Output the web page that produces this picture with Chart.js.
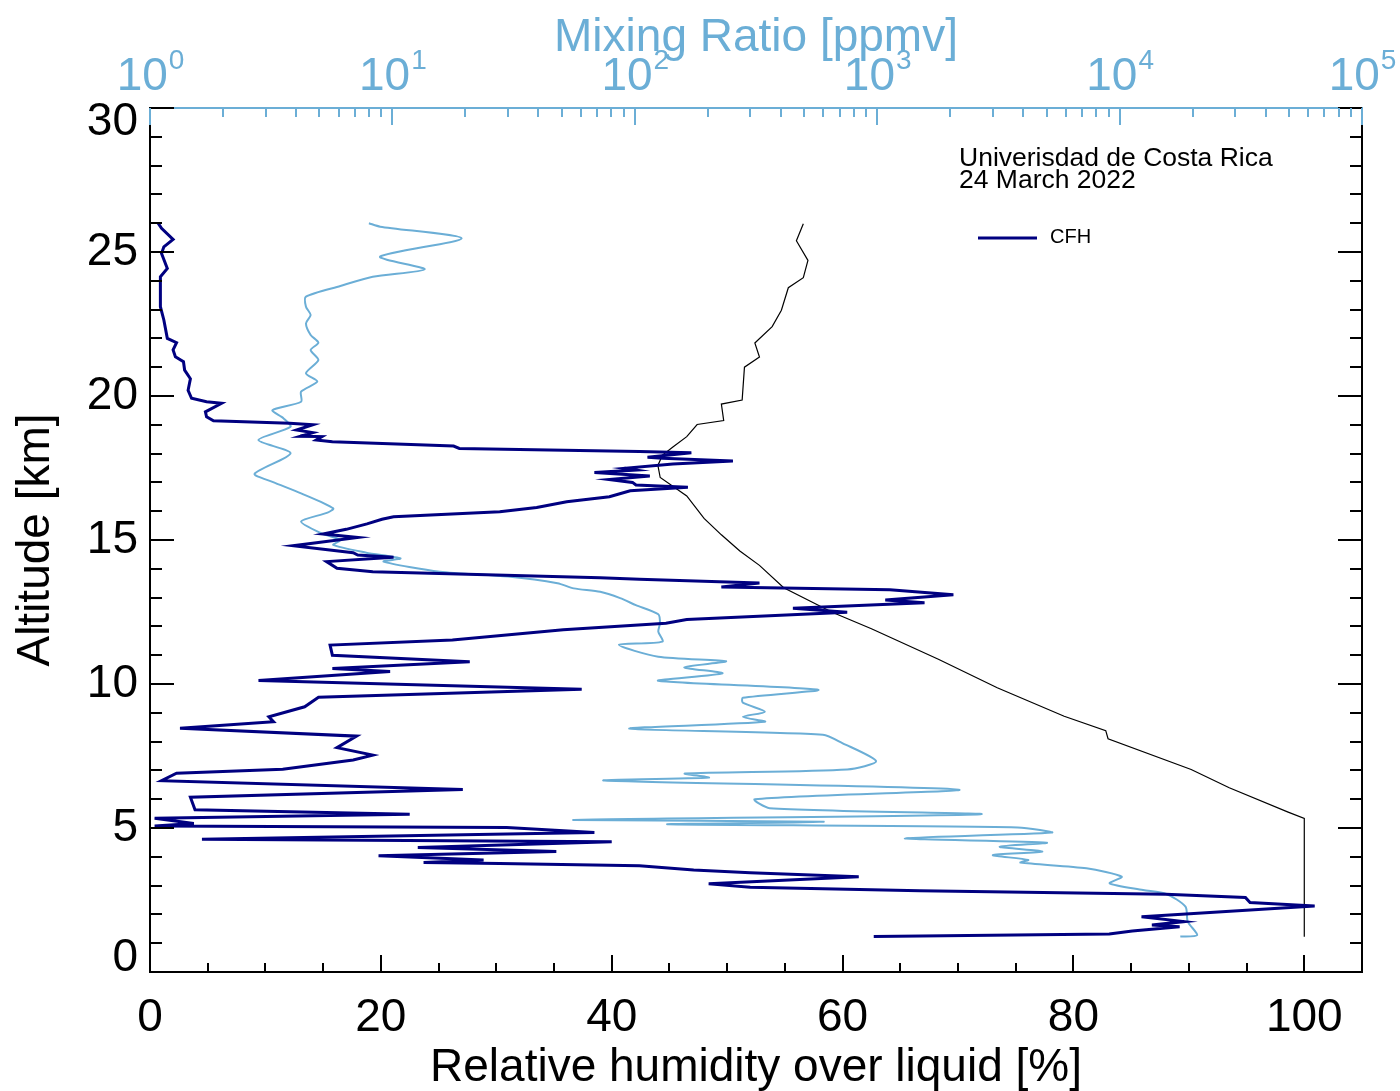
<!DOCTYPE html>
<html>
<head>
<meta charset="utf-8">
<script src="https://cdn.jsdelivr.net/npm/chart.js@4.4.1/dist/chart.umd.min.js"></script>
<style>
  html, body { margin: 0; padding: 0; background: #fff; }
</style>
</head>
<body>
<canvas id="chart" width="1400" height="1091"></canvas>
<script>
// CFH relative humidity over liquid [%] vs altitude [km]
const cfhAlt = [
  1.23, 1.32, 1.42, 1.57, 1.63, 1.75, 1.92, 2.29, 2.41, 2.59,
  2.70, 2.82, 2.94, 3.06, 3.31, 3.45, 3.54, 3.69, 3.77, 3.80,
  3.89, 4.04, 4.18, 4.32, 4.52, 4.61, 4.84, 5.02, 5.07, 5.16,
  5.34, 5.48, 5.63, 6.07, 6.34, 6.64, 6.90, 7.04, 7.36, 7.53,
  7.79, 8.19, 8.46, 8.69, 8.86, 9.21, 9.54, 9.82, 10.12, 10.43,
  10.54, 10.77, 11.00, 11.35, 11.53, 11.88, 12.11, 12.24, 12.49, 12.63,
  12.82, 12.92, 13.10, 13.27, 13.37, 13.51, 13.64, 13.69, 13.90, 14.02,
  14.25, 14.40, 14.48, 14.56, 14.80, 15.09, 15.21, 15.37, 15.56, 15.72,
  15.81, 15.98, 16.13, 16.33, 16.50, 16.71, 16.83, 16.91, 17.00, 17.10,
  17.22, 17.34, 17.43, 17.49, 17.64, 17.74, 17.84, 17.87, 18.03, 18.07,
  18.18, 18.26, 18.41, 18.47, 18.59, 18.60, 18.73, 18.82, 19.00, 19.05,
  19.14, 19.28, 19.45, 19.75, 19.80, 19.92, 20.20, 20.60, 20.90, 21.19,
  21.36, 21.60, 21.85, 22.00, 22.64, 23.10, 23.80, 24.14, 24.43, 24.95,
  25.18, 25.44, 25.82, 26.00
];
const cfhRH = [
  62.7, 83.1, 85.1, 89.2, 86.8, 89.6, 85.9, 100.9, 95.3, 94.9,
  88.0, 66.7, 52.0, 48.4, 61.4, 52.0, 47.1, 42.4, 30.3, 23.7,
  28.9, 19.8, 35.2, 23.2, 40.0, 4.5, 38.5, 30.9, 0.4, 3.8,
  0.4, 22.5, 3.9, 3.5, 27.1, 1.0, 2.3, 11.5, 17.6, 19.3,
  16.2, 17.9, 2.6, 10.7, 10.3, 13.4, 14.6, 37.4, 9.4, 20.8,
  15.8, 27.7, 15.8, 15.6, 26.2, 35.8, 44.7, 46.5, 60.4, 55.7,
  67.1, 63.7, 69.6, 64.1, 49.5, 52.8, 42.4, 39.0, 19.3, 16.2,
  15.3, 21.1, 18.0, 17.6, 12.4, 18.0, 15.0, 17.0, 18.8, 20.1,
  21.1, 30.3, 33.5, 36.1, 39.8, 41.6, 46.6, 42.1, 41.8, 39.8,
  43.3, 38.5, 42.1, 41.1, 45.3, 50.5, 44.4, 43.1, 46.9, 42.4,
  26.8, 26.3, 15.8, 14.4, 14.9, 13.0, 14.1, 12.7, 14.1, 12.1,
  5.5, 4.9, 4.8, 6.2, 4.9, 3.6, 3.3, 3.5, 3.0, 2.9,
  2.2, 2.0, 2.3, 1.5, 1.2, 0.9, 0.9, 0.9, 1.5, 1.0,
  1.2, 2.0, 1.0, 0.7
];

// water vapour mixing ratio [ppmv] vs altitude [km]
const mrAlt = [
  1.23, 1.28, 1.75, 2.27, 2.71, 2.85, 3.08, 3.31, 3.60, 3.80,
  3.89, 4.06, 4.18, 4.35, 4.49, 4.64, 4.84, 5.02, 5.13, 5.22,
  5.28, 5.48, 5.69, 6.00, 6.33, 6.65, 6.75, 6.89, 7.03, 7.32,
  7.95, 8.24, 8.45, 8.69, 8.86, 9.04, 9.35, 9.52, 9.80, 10.11,
  10.37, 10.58, 10.79, 10.95, 11.36, 11.47, 11.82, 12.11, 12.42, 12.74,
  12.98, 13.20, 13.32, 13.50, 13.73, 13.90, 14.25, 14.36, 14.56, 14.83,
  15.00, 15.23, 15.64, 15.95, 16.10, 16.62, 17.02, 17.30, 18.01, 18.47,
  18.93, 19.23, 19.51, 19.80, 20.15, 20.50, 20.79, 21.25, 21.60, 21.85,
  22.12, 22.52, 22.81, 23.10, 23.45, 23.82, 24.14, 24.40, 24.84, 25.47,
  25.88, 26.00
];
const mrPpmv = [
  17800, 20900, 19100, 18700, 15600, 12500, 9100, 10200, 7300, 3900,
  4200, 3000, 4800, 3200, 5000, 1300, 5250, 3800, 137, 600,
  56, 2670, 360, 313, 2170, 75, 202, 161, 752, 990,
  718, 597, 95, 344, 279, 344, 279, 279, 570, 125,
  230, 160, 238, 125, 86, 130, 125, 127, 125, 101,
  87, 72, 56, 48, 30, 15.7, 9.2, 10.8, 7.8, 5.7,
  6.1, 5.1, 4.2, 5.4, 5.7, 4.2, 3.2, 2.7, 3.8, 2.8,
  3.8, 3.55, 3.2, 4.2, 4.2, 4.9, 4.4, 4.95, 4.6, 4.95,
  4.6, 4.4, 4.6, 4.4, 4.4, 6.1, 8.3, 13.6, 8.9, 19.3,
  8.9, 8.0
];

// saturation (ice) expressed as RH over liquid [%]
const satAlt = [
  1.22, 5.33, 5.55, 6.40, 7.03, 8.10, 8.38, 8.88, 9.87, 10.86,
  11.92, 12.49, 13.34, 14.12, 14.62, 15.18, 15.75, 16.53, 17.17, 17.59,
  17.95, 18.23, 18.59, 19.01, 19.15, 19.72, 19.86, 21.00, 21.35, 21.84,
  22.41, 22.98, 23.76, 24.11, 24.71, 25.39, 25.98
];
const satRH = [
  100, 100, 98.6, 93.5, 90.2, 83.0, 82.8, 79.2, 73.4, 68.3,
  62.5, 59.1, 54.9, 52.8, 51.1, 49.5, 48.0, 46.5, 44.2, 44.0,
  44.4, 45.3, 46.5, 47.4, 49.7, 49.5, 51.3, 51.5, 52.8, 52.4,
  53.9, 54.7, 55.3, 56.6, 57.0, 56.0, 56.6
];

const rhTicks = [0, 20, 40, 60, 80, 100];
const altTicks = [0, 5, 10, 15, 20, 25, 30];
const mrTicks = [1, 10, 100, 1000, 10000, 100000];

const NAVY = '#000080';
const LIGHT = '#6baed6';
const FONT = '"Liberation Sans", Arial, Helvetica, sans-serif';

function toPoints(xs, ys) {
  return ys.map((y, i) => ({ x: xs[i], y: y }));
}

// IDL-style inward ticks, labels and annotation
const frame = {
  id: 'frame',
  afterDraw(chart) {
    const ctx = chart.ctx;
    const a = chart.chartArea;
    const { x, y, x2 } = chart.scales;
    ctx.save();
    ctx.lineWidth = 2;
    ctx.strokeStyle = '#000';
    ctx.beginPath();
    ctx.moveTo(a.right, a.top);
    ctx.lineTo(a.right, a.bottom + 1);
    // altitude ticks, both sides
    for (let v = 0; v <= 30; v++) {
      const py = Math.round(y.getPixelForValue(v));
      const len = v % 5 === 0 ? 24 : 12;
      ctx.moveTo(a.left, py); ctx.lineTo(a.left + len, py);
      ctx.moveTo(a.right, py); ctx.lineTo(a.right - len, py);
    }
    // RH ticks
    for (let v = 0; v <= 105; v += 5) {
      const px = Math.round(x.getPixelForValue(v));
      const len = v % 20 === 0 ? 17 : 9;
      ctx.moveTo(px, a.bottom); ctx.lineTo(px, a.bottom - len);
    }
    ctx.stroke();

    // mixing ratio ticks (log)
    ctx.strokeStyle = LIGHT;
    ctx.beginPath();
    for (let k = 0; k < 5; k++) {
      for (let m = 1; m <= 9; m++) {
        const px = Math.round(x2.getPixelForValue(m * Math.pow(10, k)));
        const len = m === 1 ? 17 : 9;
        ctx.moveTo(px, a.top); ctx.lineTo(px, a.top + len);
      }
    }
    const pEnd = Math.round(x2.getPixelForValue(1e5));
    ctx.moveTo(pEnd, a.top); ctx.lineTo(pEnd, a.top + 17);
    ctx.stroke();

    // altitude labels (end labels kept inside the axis range)
    ctx.fillStyle = '#000';
    ctx.font = '46px ' + FONT;
    ctx.textAlign = 'right';
    ctx.textBaseline = 'middle';
    altTicks.forEach(v => {
      let py = y.getPixelForValue(v);
      if (v === y.max) py += 14;
      if (v === y.min) py -= 14;
      ctx.fillText(String(v), a.left - 12, py);
    });

    // mixing ratio labels 10^n
    ctx.fillStyle = LIGHT;
    ctx.textAlign = 'left';
    ctx.textBaseline = 'alphabetic';
    mrTicks.forEach(v => {
      const px = x2.getPixelForValue(v);
      const exp = String(Math.round(Math.log10(v)));
      ctx.font = '46px ' + FONT;
      const wb = ctx.measureText('10').width;
      ctx.font = '28px ' + FONT;
      const we = ctx.measureText(exp).width;
      const start = px - (wb + we) / 2;
      ctx.font = '46px ' + FONT;
      ctx.fillText('10', start, 90);
      ctx.font = '28px ' + FONT;
      ctx.fillText(exp, start + wb + 1, 69);
    });

    // station / date
    ctx.fillStyle = '#000';
    ctx.font = '26.5px ' + FONT;
    ctx.fillText('Univerisdad de Costa Rica', 959, 166);
    ctx.fillText('24 March 2022', 959, 188);

    // legend
    ctx.strokeStyle = NAVY;
    ctx.lineWidth = 3;
    ctx.beginPath();
    ctx.moveTo(978, 238); ctx.lineTo(1037, 238);
    ctx.stroke();
    ctx.font = '20px ' + FONT;
    ctx.textBaseline = 'middle';
    ctx.fillText(chart.data.datasets[0].label, 1050, 237);
    ctx.restore();
  }
};

new Chart(document.getElementById('chart'), {
  type: 'scatter',
  data: {
    datasets: [
      {
        label: 'CFH',
        data: toPoints(cfhRH, cfhAlt),
        xAxisID: 'x', yAxisID: 'y',
        showLine: true, borderColor: NAVY, borderWidth: 3,
        pointRadius: 0, tension: 0
      },
      {
        label: 'Mixing Ratio',
        data: toPoints(mrPpmv, mrAlt),
        xAxisID: 'x2', yAxisID: 'y',
        showLine: true, borderColor: LIGHT, borderWidth: 2,
        pointRadius: 0, tension: 0.25
      },
      {
        label: 'Saturation over ice',
        data: toPoints(satRH, satAlt),
        xAxisID: 'x', yAxisID: 'y',
        showLine: true, borderColor: '#000', borderWidth: 1.2,
        pointRadius: 0, tension: 0
      }
    ]
  },
  options: {
    responsive: false,
    animation: false,
    events: [],
    layout: { padding: { left: 0, right: 38, top: 0, bottom: 0 } },
    plugins: { legend: { display: false }, tooltip: { enabled: false } },
    scales: {
      x: {
        type: 'linear', position: 'bottom', min: 0, max: 105,
        afterBuildTicks: s => { s.ticks = rhTicks.map(v => ({ value: v })); },
        ticks: { color: '#000', font: { family: FONT, size: 46 }, padding: 19, maxRotation: 0, autoSkip: false },
        grid: { display: false, drawTicks: false },
        border: { display: true, color: '#000', width: 2 },
        title: { display: true, text: 'Relative humidity over liquid [%]', color: '#000',
                 font: { family: FONT, size: 46, lineHeight: 1.0 }, padding: { top: 0, bottom: 0 } },
        afterFit: s => { s.height = 119; }
      },
      x2: {
        type: 'logarithmic', position: 'top', min: 1, max: 100000,
        afterBuildTicks: s => { s.ticks = mrTicks.map(v => ({ value: v })); },
        ticks: { display: false },
        grid: { display: false, drawTicks: false },
        border: { display: true, color: LIGHT, width: 2 },
        title: { display: true, text: 'Mixing Ratio [ppmv]', color: LIGHT,
                 font: { family: FONT, size: 46 }, padding: { top: 11, bottom: 0 } },
        afterFit: s => { s.height = 108; }
      },
      y: {
        type: 'linear', position: 'left', min: 0, max: 30,
        afterBuildTicks: s => { s.ticks = altTicks.map(v => ({ value: v })); },
        ticks: { display: false },
        grid: { display: false, drawTicks: false },
        border: { display: true, color: '#000', width: 2 },
        title: { display: true, text: 'Altitude [km]', color: '#000',
                 font: { family: FONT, size: 46 }, padding: { top: 9, bottom: 0 } },
        afterFit: s => { s.width = 150; }
      }
    }
  },
  plugins: [frame]
});
</script>
</body>
</html>
